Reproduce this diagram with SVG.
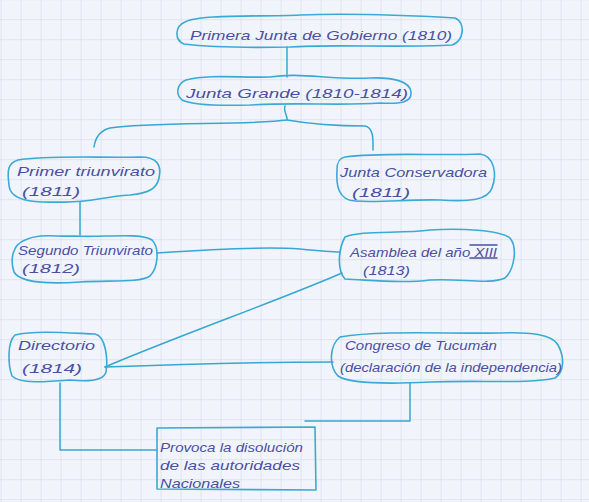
<svg xmlns="http://www.w3.org/2000/svg" width="589" height="502" viewBox="0 0 589 502">
<defs>
<pattern id="grid" x="0.6" y="-0.8" width="20" height="20" patternUnits="userSpaceOnUse">
<path d="M0,0 H20 M0,0 V20" fill="none" stroke="#cdd2de" stroke-width="1"/>
</pattern>
<style>
.n{fill:none;stroke:#3aa9d6;stroke-width:1.6;stroke-linejoin:round;stroke-linecap:round}
.c{fill:none;stroke:#36a6d4;stroke-width:1.5;stroke-linecap:round;stroke-linejoin:round}
.t{font-family:"Liberation Sans",Arial,sans-serif;font-size:13px;fill:#4b4fa3;font-style:italic}
</style>
</defs>
<rect width="589" height="502" fill="#f1f5fb"/>
<rect width="589" height="502" fill="url(#grid)"/>
<g id="connectors">
<path class="c" d="M287,47 L287,77"/>
<path class="c" d="M285,106 C283,112 288,116 287,120 C250,125 150,122 110,128 C98,131 95,140 94,147"/>
<path class="c" d="M287,120 C310,124 340,126 365,126 C374,128 373,140 373,150"/>
<path class="c" d="M80,202 L80,235"/>
<path class="c" d="M157,253 C200,250 260,246 300,249 C320,251 330,252 340,252"/>
<path class="c" d="M342,273 C280,300 180,335 105,367"/>
<path class="c" d="M105,367 C180,364 260,362 333,362"/>
<path class="c" d="M410,383 L410,421 L305,421"/>
<path class="c" d="M60,383 L60,450 L157,450"/>
</g>
<g id="n1">
<path class="n" d="M185,22 C200,14 260,17 300,15 C350,13 420,16 455,18 C466,22 464,42 452,45 C400,48 330,44 290,47 C240,48 200,46 184,44 C174,40 175,26 185,22 Z"/>
<text class="t" x="190" y="40" textLength="262" lengthAdjust="spacingAndGlyphs">Primera Junta de Gobierno (1810)</text>
</g>
<g id="n2">
<path class="n" d="M186,80 C210,74 240,78 270,77 C300,72 330,80 370,78 C395,77 410,82 411,92 C412,103 400,104 380,103 C340,106 300,102 250,105 C215,106 190,104 182,100 C175,94 177,84 186,80 Z"/>
<text class="t" x="186" y="98" textLength="222" lengthAdjust="spacingAndGlyphs">Junta Grande (1810-1814)</text>
</g>
<g id="n3">
<path class="n" d="M18,160 C45,155 100,158 140,157 C157,157 162,165 159,178 C157,188 150,193 130,195 C100,197 90,203 60,202 C30,203 10,200 9,185 C7,170 8,163 18,160 Z"/>
<text class="t" x="17" y="176" textLength="138" lengthAdjust="spacingAndGlyphs">Primer triunvirato</text>
<text class="t" x="22" y="196" textLength="58" lengthAdjust="spacingAndGlyphs">(1811)</text>
</g>
<g id="n4">
<path class="n" d="M345,157 C380,152 440,156 480,154 C495,156 497,175 492,188 C488,200 470,202 440,200 C410,199 380,203 355,201 C338,200 336,185 337,170 C337,162 339,158 345,157 Z"/>
<text class="t" x="340" y="177" textLength="147" lengthAdjust="spacingAndGlyphs">Junta Conservadora</text>
<text class="t" x="352" y="197" textLength="58" lengthAdjust="spacingAndGlyphs">(1811)</text>
</g>
<g id="n5">
<path class="n" d="M25,240 C40,233 55,237 75,236 C100,238 140,232 152,240 C160,248 158,268 150,276 C140,283 110,280 80,282 C50,284 20,283 14,272 C10,260 12,245 25,240 Z"/>
<text class="t" x="18" y="255" textLength="135" lengthAdjust="spacingAndGlyphs">Segundo Triunvirato</text>
<text class="t" x="22" y="273" textLength="58" lengthAdjust="spacingAndGlyphs">(1812)</text>
</g>
<g id="n6">
<path class="n" d="M345,237 C360,230 400,234 430,230 C460,228 500,230 510,238 C518,248 514,270 505,278 C490,285 460,278 430,280 C400,284 370,280 345,279 C337,270 338,250 345,237 Z"/>
<text class="t" x="350" y="257" textLength="147" lengthAdjust="spacingAndGlyphs">Asamblea del año XIII</text>
<path class="c" d="M470,245 H497 M470,258 H497" stroke-width="1" style="stroke:#4b4fa3"/>
<text class="t" x="363" y="275" textLength="47" lengthAdjust="spacingAndGlyphs">(1813)</text>
</g>
<g id="n7">
<path class="n" d="M15,335 C35,330 70,333 95,334 C106,336 108,360 106,372 C104,380 90,382 70,380 C45,382 20,384 12,376 C8,365 7,342 15,335 Z"/>
<text class="t" x="18" y="350" textLength="77" lengthAdjust="spacingAndGlyphs">Directorio</text>
<text class="t" x="22" y="373" textLength="60" lengthAdjust="spacingAndGlyphs">(1814)</text>
</g>
<g id="n8">
<path class="n" d="M340,337 C380,330 450,334 500,333 C530,332 552,334 558,345 C565,358 564,372 555,378 C530,384 480,380 430,382 C390,384 350,384 338,376 C328,365 330,345 340,337 Z"/>
<text class="t" x="345" y="350" textLength="152" lengthAdjust="spacingAndGlyphs">Congreso de Tucumán</text>
<text class="t" x="340" y="372" textLength="222" lengthAdjust="spacingAndGlyphs">(declaración de la independencia)</text>
</g>
<g id="n9">
<path class="n" d="M157,428 L315,427 L316,490 L157,489 Z"/>
<text class="t" x="160" y="452" textLength="143" lengthAdjust="spacingAndGlyphs">Provoca la disolución</text>
<text class="t" x="160" y="470" textLength="140" lengthAdjust="spacingAndGlyphs">de las autoridades</text>
<text class="t" x="160" y="488" textLength="80" lengthAdjust="spacingAndGlyphs">Nacionales</text>
</g>
</svg>
